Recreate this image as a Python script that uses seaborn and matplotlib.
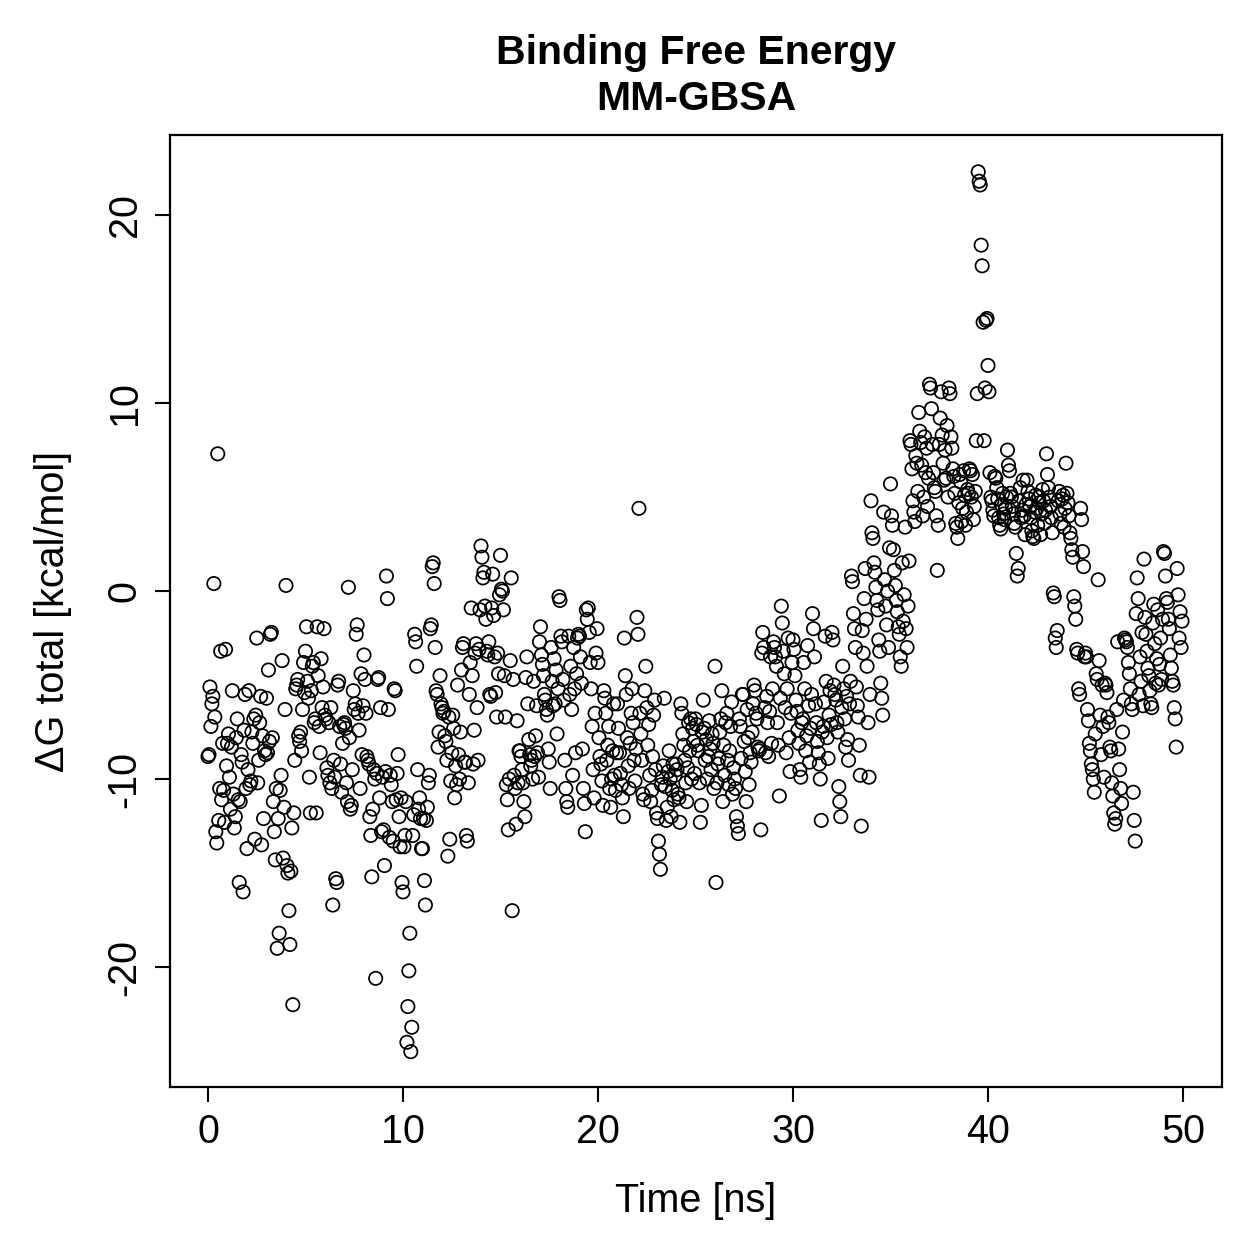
import numpy as np
import pandas as pd
import matplotlib
matplotlib.use("Agg")
import matplotlib.pyplot as plt
import seaborn as sns

# Delta G total [kcal/mol], 20 frames per ns, blocks of 5 ns
dg_00_05 = [
    -8.8, -8.7, -5.1, -7.2, -6.0, -5.6, 0.4, -6.7, -12.8, -13.4, 7.3, -12.2, -10.5, -3.2, -11.1, -8.1, -10.6, -12.3, -3.1, -9.3,
    -8.1, -7.6, -9.9, -11.6, -8.3, -5.3, -10.8, -12.6, -12.0, -7.8, -6.8, -11.1, -15.5, -11.2, -8.7, -9.1, -16.0, -7.4, -5.5, -10.5,
    -13.7, -9.5, -5.3, -10.3, -10.1, -7.5, -8.1, -6.8, -13.2, -6.6, -2.5, -10.2, -9.0, -7.0, -5.6, -13.5, -7.7, -12.1, -8.5, -8.7,
    -5.7, -8.6, -4.2, -8.0, -2.3, -2.2, -7.8, -11.2, -12.8, -14.3, -10.5, -19.0, -12.1, -18.2, -10.6, -9.8, -3.7, -14.2, -11.5, -6.3,
    0.3, -14.6, -15.0, -17.0, -18.8, -14.9, -12.6, -22.0, -11.8, -9.0, -5.2, -5.0, -4.7, -7.7, -8.0, -7.5, -8.5, -6.3, -3.8, -5.4,
]
dg_05_10 = [
    -3.2, -1.9, -4.8, -5.7, -9.9, -11.8, -5.3, -4.0, -3.8, -7.0, -6.8, -11.8, -1.9, -4.5, -7.2, -8.6, -3.6, -6.2, -5.1, -2.0,
    -6.6, -6.8, -9.4, -9.8, -7.0, -10.2, -6.2, -10.5, -16.7, -9.0, -9.9, -15.3, -15.5, -5.0, -4.8, -7.2, -9.2, -10.7, -8.1, -7.1,
    -7.0, -7.3, -10.2, -11.2, 0.2, -7.8, -11.6, -11.4, -9.5, -5.3, -6.3, -6.0, -2.3, -1.8, -6.5, -7.4, -10.5, -4.4, -8.7, -6.1,
    -3.4, -4.7, -6.5, -8.8, -9.0, -9.2, -12.0, -13.0, -15.2, -11.6, -9.5, -10.0, -20.6, -9.7, -4.7, -4.6, -11.0, -6.2, -12.8, -9.9,
    -12.7, -14.6, -9.6, 0.8, -0.4, -6.3, -13.1, -9.8, -10.3, -11.2, -13.3, -5.2, -5.3, -11.1, -9.7, -8.7, -12.0, -13.6, -11.0, -15.5,
]
dg_10_15 = [
    -16.0, -13.6, -13.0, -11.2, -24.0, -22.1, -20.2, -18.2, -24.5, -23.2, -13.0, -11.9, -2.3, -2.7, -4.0, -9.5, -11.6, -11.0, -12.1, -13.7,
    -13.7, -12.1, -15.4, -16.7, -12.2, -11.5, -10.2, -9.8, -2.0, -1.8, 1.3, 1.5, 0.4, -3.0, -5.3, -5.5, -8.3, -7.5, -4.5, -6.0,
    -6.2, -6.5, -6.4, -7.7, -8.0, -9.0, -14.1, -6.7, -13.2, -10.1, -8.6, -6.6, -7.3, -11.0, -9.3, -10.3, -5.0, -8.7, -10.0, -7.5,
    -4.2, -3.0, -2.8, -9.1, -9.1, -13.0, -13.3, -10.2, -5.5, -3.8, -0.9, -4.5, -9.2, -7.4, -3.3, -2.8, -6.2, -9.0, -3.1, -1.0,
    2.4, 1.8, 0.7, 1.0, -0.8, -1.5, -3.2, -3.4, -2.7, -5.5, -5.6, -0.9, 0.9, -1.3, -3.5, -5.4, -6.7, -3.3, -4.4, -0.2,
]
dg_15_20 = [
    1.9, 0.1, 0.0, -1.0, -4.5, -6.7, -10.3, -11.1, -12.7, -10.0, -3.7, 0.7, -17.0, -4.7, -9.8, -10.5, -12.4, -6.9, -10.2, -8.5,
    -8.5, -8.8, -9.5, -10.2, -11.2, -12.0, -4.6, -3.5, -6.0, -7.9, -8.7, -9.3, -9.0, -10.0, -4.8, -8.8, -7.7, -6.1, -8.6, -9.9,
    -2.7, -1.9, -3.4, -3.9, -4.5, -5.5, -5.8, -6.3, -6.6, -8.4, -9.1, -10.5, -3.0, -4.8, -6.1, -3.6, -6.0, -4.2, -7.6, -5.2,
    -0.3, -0.5, -2.4, -2.7, -4.7, -5.8, -9.0, -10.5, -11.2, -11.5, -2.4, -5.5, -4.0, -6.3, -9.8, -3.0, -5.2, -8.6, -4.4, -2.5,
    -2.3, -2.4, -3.5, -4.9, -8.4, -10.5, -11.3, -12.8, -1.0, -1.5, -0.9, -2.2, -3.8, -5.2, -7.2, -9.5, -11.0, -6.5, -3.3, -2.0,
]
dg_20_25 = [
    -3.8, -7.8, -8.8, -9.2, -10.1, -11.4, -5.3, -5.7, -6.5, -9.0, -8.2, -7.2, -10.5, -11.5, -10.0, -8.5, -6.0, -9.8, -10.6, -8.6,
    -6.0, -7.3, -8.6, -9.7, -10.3, -11.0, -12.0, -2.5, -4.5, -5.5, -7.8, -9.3, -10.5, -8.1, -6.5, -5.2, -7.0, -9.0, -10.1, -8.4,
    -1.4, -2.3, 4.4, -6.5, -7.6, -9.0, -10.8, -11.1, -5.3, -4.0, -6.2, -8.2, -7.1, -9.8, -11.2, -10.6, -8.8, -6.6, -5.8, -9.5,
    -11.8, -12.1, -13.3, -14.0, -14.8, -10.3, -9.9, -9.3, -5.7, -10.4, -12.2, -11.5, -9.6, -8.5, -10.0, -12.0, -10.6, -9.2, -11.1, -9.8,
    -9.2, -9.5, -10.8, -11.0, -12.3, -6.0, -6.5, -7.6, -8.2, -9.0, -10.2, -11.2, -9.4, -7.0, -8.5, -6.8, -10.0, -7.3, -8.0, -9.7,
]
dg_25_30 = [
    -6.8, -7.1, -8.2, -8.5, -10.2, -12.3, -11.4, -7.5, -5.8, -7.3, -9.0, -7.9, -10.0, -8.8, -6.9, -8.4, -9.5, -7.6, -8.1, -10.5,
    -4.0, -15.5, -10.2, -9.2, -8.9, -7.5, -6.8, -5.3, -11.2, -8.2, -9.8, -7.0, -6.5, -9.0, -10.3, -8.5, -7.2, -5.9, -10.8, -9.4,
    -10.0, -10.5, -12.0, -12.5, -12.9, -6.8, -7.2, -8.9, -5.5, -5.5, -8.0, -9.6, -11.2, -6.3, -7.8, -10.3, -8.6, -9.1, -7.5, -6.0,
    -5.0, -5.3, -6.5, -6.8, -8.3, -8.5, -8.4, -12.7, -3.3, -2.2, -3.0, -6.2, -8.6, -5.6, -7.0, -8.8, -6.4, -3.5, -8.1, -5.2,
    -2.7, -3.0, -3.5, -4.0, -7.0, -8.2, -10.9, -5.7, -0.8, -1.7, -3.2, -4.4, -6.2, -8.6, -5.2, -2.5, -7.8, -9.6, -6.5, -3.8,
]
dg_30_35 = [
    -2.6, -3.1, -4.5, -5.8, -6.4, -7.4, -8.1, -9.5, -9.9, -7.0, -6.8, -3.8, -5.2, -8.5, -7.7, -2.9, -6.1, -9.1, -7.3, -5.5,
    -1.2, -2.0, -3.5, -6.0, -7.0, -8.0, -8.6, -9.2, -10.0, -12.2, -7.5, -7.2, -5.9, -2.4, -4.8, -7.8, -8.9, -6.6, -5.3, -7.1,
    -2.2, -2.6, -5.0, -5.5, -5.8, -7.0, -7.5, -10.4, -11.2, -12.0, -6.2, -4.0, -5.2, -6.8, -8.3, -5.6, -7.9, -9.0, -6.0, -4.8,
    0.8, 0.5, -1.2, -2.0, -3.0, -5.1, -6.1, -6.7, -8.2, -9.8, -12.5, -2.1, -3.3, -0.4, 1.2, -1.5, -4.0, -7.0, -9.9, -5.5,
    4.8, 3.1, 2.8, 1.5, 1.0, 0.2, -0.5, -1.0, -2.6, -3.2, -4.9, -5.7, -6.6, 4.2, 0.6, -0.8, -1.8, 0.0, -3.0, 2.3,
]
dg_35_40 = [
    5.7, 4.0, 3.5, 2.2, 1.1, 0.3, -0.5, -1.1, -1.9, -2.3, -3.5, -4.0, 1.5, -1.6, -0.2, 3.4, -2.0, -3.0, -0.8, 1.6,
    8.0, 7.8, 6.5, 4.8, 4.2, 3.7, 7.2, 6.8, 5.3, 9.5, 8.5, 7.9, 6.7, 4.0, 5.0, 8.2, 6.3, 7.6, 4.5, 6.0,
    11.0, 10.8, 9.7, 7.8, 6.3, 5.5, 5.3, 4.0, 1.1, 3.5, 7.8, 9.2, 10.6, 8.3, 6.8, 5.9, 7.5, 6.0, 8.8, 5.0,
    10.8, 10.5, 8.2, 7.6, 6.5, 6.1, 5.2, 3.6, 3.4, 2.8, 4.7, 6.2, 5.8, 3.7, 4.4, 6.4, 5.1, 3.5, 4.2, 5.4,
    5.2, 6.5, 6.4, 5.0, 6.2, 3.8, 4.5, 5.3, 8.0, 10.5, 22.3, 21.8, 21.6, 18.4, 17.3, 14.3, 8.0, 10.8, 14.4, 14.5,
]
dg_40_45 = [
    12.0, 10.6, 6.3, 5.0, 4.8, 4.3, 4.0, 6.1, 6.0, 5.5, 4.9, 3.9, 3.5, 3.3, 4.6, 5.2, 4.1, 3.8, 4.4, 5.0,
    7.5, 6.7, 6.4, 5.2, 5.0, 4.5, 4.1, 3.6, 3.4, 2.0, 0.8, 1.2, 4.8, 5.5, 3.9, 4.3, 5.9, 4.0, 3.0, 4.6,
    5.9, 5.3, 4.9, 4.5, 3.9, 3.2, 2.9, 2.8, 4.2, 5.1, 4.4, 3.5, 5.0, 4.7, 3.0, 4.1, 5.4, 4.8, 3.6, 4.3,
    7.3, 6.2, 5.5, 5.0, 4.5, 3.9, 3.1, -0.1, -0.3, -2.5, -3.0, -2.1, 4.8, 5.3, 4.1, 3.6, 4.9, 5.1, 3.4, 4.4,
    6.8, 5.2, 4.7, 4.0, 3.1, 2.8, 2.2, 1.8, -0.3, -0.8, -1.5, -3.1, -3.3, -5.2, -5.5, 4.4, 3.8, 2.1, 1.3, -3.5,
]
dg_45_50 = [
    -3.3, -3.5, -6.3, -6.9, -8.1, -8.5, -9.2, -9.5, -10.0, -10.7, -7.6, -4.4, -4.7, 0.6, -3.7, -6.6, -8.7, -5.0, -7.2, -9.9,
    -4.9, -5.0, -5.4, -6.7, -7.0, -8.3, -8.5, -10.2, -10.9, -11.8, -12.4, -12.1, -6.3, -2.7, -8.4, -9.5, -10.5, -11.3, -7.5, -5.8,
    -2.5, -2.6, -2.7, -3.0, -3.8, -4.4, -5.2, -6.0, -6.3, -10.7, -12.2, -13.3, -1.2, 0.7, -0.4, -5.5, -3.5, -4.8, -2.2, -6.1,
    1.7, -1.4, -2.3, -3.2, -4.1, -4.5, -5.3, -6.0, -6.2, -1.7, -0.7, -2.8, -4.9, -3.6, -1.0, -5.0, -3.9, -2.5, -4.7, -1.5,
    2.1, 2.0, 0.8, -0.4, -0.6, -1.5, -2.0, -3.4, -4.1, -4.8, -5.0, -6.2, -6.8, -8.3, 1.2, -0.2, -2.5, -1.1, -3.0, -1.6,
]

x_ticks = [0, 10, 20, 30, 40, 50]
y_ticks = [-20, -10, 0, 10, 20]
title_text = "Binding Free Energy\nMM-GBSA"
x_label = "Time [ns]"
y_label = "ΔG total [kcal/mol]"

values = np.array(dg_00_05 + dg_05_10 + dg_10_15 + dg_15_20 + dg_20_25 +
                  dg_25_30 + dg_30_35 + dg_35_40 + dg_40_45 + dg_45_50)
frame_step_ns = 0.05
time_ns = np.arange(len(values)) * frame_step_ns
df = pd.DataFrame({"time": time_ns, "dg": values})

sns.set_theme(style="ticks")
plt.rcParams["font.family"] = ["Liberation Sans", "DejaVu Sans"]
plt.rcParams["text.color"] = "black"
plt.rcParams["axes.labelcolor"] = "black"
plt.rcParams["xtick.color"] = "black"
plt.rcParams["ytick.color"] = "black"
plt.rcParams["xtick.labelcolor"] = "black"
plt.rcParams["ytick.labelcolor"] = "black"

fig = plt.figure(figsize=(12.59, 12.59), dpi=100)
ax = fig.add_axes([0.135, 0.1366, 0.8356, 0.7562])

sns.scatterplot(data=df, x="time", y="dg", ax=ax, marker="o", s=92,
                fc="none", ec="black", linewidth=1.25, legend=False)

ax.set_xlim(-1.95, 52.0)
ax.set_ylim(-26.38, 24.26)
ax.set_xticks(x_ticks)
ax.set_yticks(y_ticks)
ax.set_xticklabels([str(v) for v in x_ticks], fontsize=28.5, color="black")
ax.set_yticklabels([str(v) for v in y_ticks], fontsize=28.5, rotation=90, va="center", color="black")
ax.tick_params(axis="both", direction="out", length=11, width=1.5, color="black", pad=8)
for sp in ax.spines.values():
    sp.set_linewidth(1.6)
    sp.set_color("black")
    sp.set_visible(True)

ax.set_xlabel(x_label, fontsize=28.5, labelpad=22, color="black")
ax.set_ylabel(y_label, fontsize=28.5, labelpad=24, color="black")
ax.set_title(title_text, fontsize=29.5, fontweight="bold", pad=18, linespacing=1.25, color="black")

fig.savefig("out.png", dpi=100)
